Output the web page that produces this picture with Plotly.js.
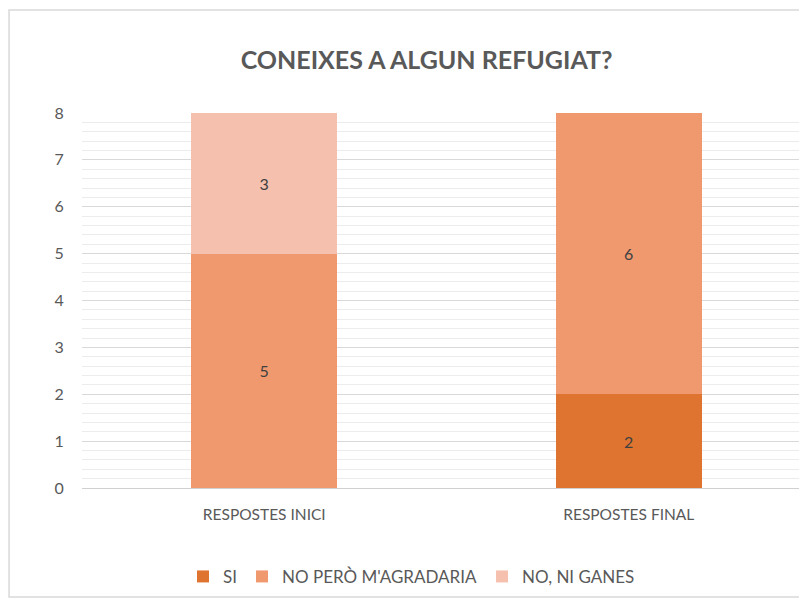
<!DOCTYPE html>
<html>
<head>
<meta charset="utf-8">
<script src="https://cdn.plot.ly/plotly-3.0.1.min.js"></script>
<style>
html,body{margin:0;padding:0;overflow:hidden;background:#fff;width:799px;height:599px;}
#chart{width:830px;height:599px;}
</style>
</head>
<body>
<div id="chart"></div>
<script>
const categories = ["RESPOSTES INICI", "RESPOSTES FINAL"];
const seriesNames = ["SI", "NO PERÒ M'AGRADARIA", "NO, NI GANES"];
const siValues = [0, 2];
const noPeroValues = [5, 6];
const noNiGanesValues = [3, 0];
const yTicks = [0, 1, 2, 3, 4, 5, 6, 7, 8];

const colors = ["#DF7430", "#F0996F", "#F5C0AD"];
const allValues = [siValues, noPeroValues, noNiGanesValues];
const FONT = "Lato, 'Open Sans', sans-serif";

const traces = allValues.map((vals, i) => ({
  type: "bar",
  name: seriesNames[i],
  x: categories,
  y: vals,
  text: vals.map(v => v === 0 ? "" : String(v)),
  textposition: "inside",
  insidetextanchor: "middle",
  textangle: 0,
  textfont: {family: FONT, size: 16, color: "#404040"},
  marker: {color: colors[i], line: {width: 0}},
  hoverinfo: "none"
}));

const layout = {
  width: 830,
  height: 599,
  barmode: "stack",
  bargap: 0.6,
  margin: {l: 82, r: 19, t: 113, b: 111, autoexpand: false},
  paper_bgcolor: "#ffffff",
  plot_bgcolor: "#ffffff",
  font: {family: FONT, color: "#595959"},
  title: {
    text: "<b>CONEIXES A ALGUN REFUGIAT?</b>",
    font: {family: FONT, size: 25, color: "#595959"},
    xref: "container", x: 0.514, xanchor: "center",
    yref: "container", y: 0.9, yanchor: "middle"
  },
  xaxis: {
    type: "category",
    range: [-0.5, 1.5],
    showgrid: false,
    showline: true,
    linecolor: "#d0d0d0",
    linewidth: 1,
    ticks: "outside",
    ticklen: 12,
    tickcolor: "rgba(0,0,0,0)",
    tickfont: {family: FONT, size: 15.5, color: "#595959"},
    zeroline: false
  },
  yaxis: {
    range: [0, 8],
    tickvals: yTicks,
    showgrid: true,
    gridcolor: "#d9d9d9",
    gridwidth: 1,
    zeroline: false,
    showline: false,
    ticks: "outside",
    ticklen: 14,
    tickcolor: "rgba(0,0,0,0)",
    tickfont: {family: FONT, size: 16, color: "#595959"},
    minor: {dtick: 0.2, showgrid: true, gridcolor: "#ececec", gridwidth: 1, ticks: ""}
  },
  showlegend: true,
  legend: {
    orientation: "h",
    x: 0.452, xanchor: "center",
    y: -0.237, yanchor: "middle",
    font: {family: FONT, size: 17, color: "#595959"},
    itemwidth: 30,
    traceorder: "normal"
  },
  shapes: [{
    type: "rect", xref: "paper", yref: "paper",
    x0: -0.1001, x1: 1.05, y0: -0.2907, y1: 1.2747,
    line: {color: "#d9d9d9", width: 1.5},
    fillcolor: "rgba(0,0,0,0)",
    layer: "below"
  }]
};

Plotly.newPlot("chart", traces, layout, {displayModeBar: false, staticPlot: true});
</script>
</body>
</html>
